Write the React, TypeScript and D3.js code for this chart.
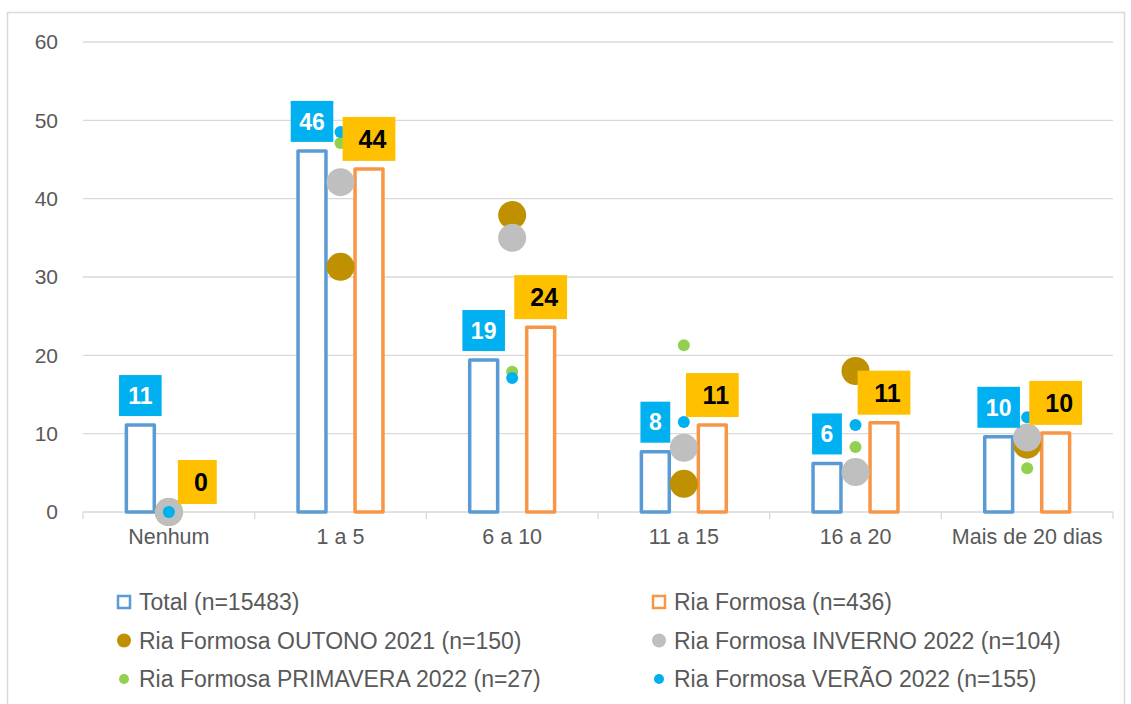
import React from 'react';
import * as d3 from 'd3';

const categories = ['Nenhum', '1 a 5', '6 a 10', '11 a 15', '16 a 20', 'Mais de 20 dias'];
const totalValues = [11.1, 46.1, 19.4, 7.7, 6.2, 9.6];
const riaValues = [0, 43.8, 23.6, 11.1, 11.4, 10.1];
const outonoValues = [0, 31.3, 37.9, 3.6, 18.0, 8.6];
const invernoValues = [0, 42.1, 35.0, 8.2, 5.1, 9.5];
const primaveraValues = [0, 47.1, 17.9, 21.3, 8.3, 5.6];
const veraoValues = [0, 48.5, 17.1, 11.5, 11.1, 12.1];
const yTicks = [0, 10, 20, 30, 40, 50, 60];

const legendItems = [
    { label: 'Total (n=15483)', kind: 'bar', color: '#5B9BD5' },
    { label: 'Ria Formosa (n=436)', kind: 'bar', color: '#F79646' },
    { label: 'Ria Formosa OUTONO 2021 (n=150)', kind: 'big', color: '#BF9000' },
    { label: 'Ria Formosa INVERNO 2022 (n=104)', kind: 'big', color: '#BFBFBF' },
    { label: 'Ria Formosa PRIMAVERA 2022 (n=27)', kind: 'small', color: '#92D050' },
    { label: 'Ria Formosa VERÃO 2022 (n=155)', kind: 'small', color: '#00B0F0' },
];

const dotSeries = [
    { values: outonoValues, color: '#BF9000', r: 14 },
    { values: invernoValues, color: '#BFBFBF', r: 14 },
    { values: primaveraValues, color: '#92D050', r: 6 },
    { values: veraoValues, color: '#00B0F0', r: 6 },
];

const FONT = "'Liberation Sans', Arial, sans-serif";

export default function App() {
    const width = 1131;
    const height = 704;
    const margin = { left: 83, right: 18, top: 42, bottom: 192 };

    const x = d3.scaleBand<string>().domain(categories).range([margin.left, width - margin.right]).padding(0);
    const y = d3.scaleLinear().domain([0, 60]).range([height - margin.bottom, margin.top]);
    const bw = x.bandwidth();
    const x1 = d3.scaleBand<string>().domain(['total', 'ria']).range([0, bw]).paddingInner(0.51).paddingOuter(0.761);
    const barW = x1.bandwidth();
    const fmt = d3.format('.0f');
    const y0 = y(0);

    const boundaries = d3.range(categories.length + 1).map(i => margin.left + i * bw);

    return (
        <svg width={width} height={height} style={{ position: 'absolute', left: 0, top: 0, background: '#fff' }} fontFamily={FONT}>
            <rect x={7.5} y={12.5} width={1117} height={720} fill="#fff" stroke="#d9d9d9" strokeWidth={1.5} />
            {yTicks.map(t => (
                <g key={t}>
                    <line x1={margin.left} x2={width - margin.right} y1={y(t)} y2={y(t)} stroke="#d9d9d9" strokeWidth={1.3} />
                    <text x={58} y={y(t)} dy="0.35em" textAnchor="end" fontSize={21} fill="#595959">{t}</text>
                </g>
            ))}
            {boundaries.map((bx, i) => (
                <line key={i} x1={bx} x2={bx} y1={y0} y2={y0 + 7} stroke="#d9d9d9" strokeWidth={1.3} />
            ))}
            {categories.map(c => (
                <text key={c} x={(x(c) ?? 0) + bw / 2} y={y0 + 32} textAnchor="middle" fontSize={21.5} fill="#595959">{c}</text>
            ))}
            {categories.map((c, i) => {
                const bx = (x(c) ?? 0) + (x1('total') ?? 0);
                return <rect key={'t' + c} x={bx} y={y(totalValues[i])} width={barW} height={y0 - y(totalValues[i])}
                    fill="#fff" stroke="#5B9BD5" strokeWidth={3.5} strokeLinejoin="round" />;
            })}
            {categories.map((c, i) => {
                const bx = (x(c) ?? 0) + (x1('ria') ?? 0);
                return <rect key={'r' + c} x={bx} y={y(riaValues[i])} width={barW} height={y0 - y(riaValues[i])}
                    fill="#fff" stroke="#F79646" strokeWidth={3.5} strokeLinejoin="round" />;
            })}
            {dotSeries.map((s, si) => (
                <g key={si}>
                    {categories.map((c, i) => (
                        <circle key={c} cx={(x(c) ?? 0) + bw / 2} cy={y(s.values[i])} r={s.r} fill={s.color} />
                    ))}
                </g>
            ))}
            {categories.map((c, i) => {
                const cx = (x(c) ?? 0) + (x1('total') ?? 0) + barW / 2;
                const txt = fmt(totalValues[i]);
                const w = txt.length * 0.556 * 23 + 17;
                const bottom = y(totalValues[i]) - 9;
                return (
                    <g key={'lt' + c}>
                        <rect x={cx - w / 2} y={bottom - 41} width={w} height={41} fill="#00B0F0" />
                        <text x={cx} y={bottom - 20.5} dy="0.36em" textAnchor="middle" fontSize={23} fontWeight="bold" fill="#fff">{txt}</text>
                    </g>
                );
            })}
            {categories.map((c, i) => {
                const cx = (x(c) ?? 0) + (x1('ria') ?? 0) + barW / 2;
                const txt = fmt(riaValues[i]);
                const w = txt.length * 0.556 * 25 + 25;
                const bottom = y(riaValues[i]) - 8;
                return (
                    <g key={'lr' + c}>
                        <rect x={cx - w / 2} y={bottom - 44} width={w} height={44} fill="#FFC000" />
                        <text x={cx + 3.5} y={bottom - 22} dy="0.36em" textAnchor="middle" fontSize={25} fontWeight="bold" fill="#000">{txt}</text>
                    </g>
                );
            })}
            {legendItems.map((it, i) => {
                const col = i % 2;
                const row = Math.floor(i / 2);
                const mx = col === 0 ? 124 : 659;
                const my = 602 + row * 38.5;
                return (
                    <g key={it.label}>
                        {it.kind === 'bar' && <rect x={mx - 6} y={my - 6} width={12} height={12} fill="#fff" stroke={it.color} strokeWidth={2.5} />}
                        {it.kind === 'big' && <circle cx={mx} cy={my} r={7} fill={it.color} />}
                        {it.kind === 'small' && <circle cx={mx} cy={my} r={5} fill={it.color} />}
                        <text x={mx + 15} y={my} dy="0.35em" fontSize={23} fill="#595959">{it.label}</text>
                    </g>
                );
            })}
        </svg>
    );
}
